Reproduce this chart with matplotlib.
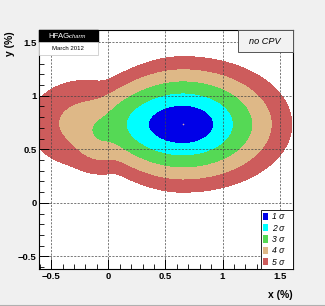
import numpy as np
import matplotlib.pyplot as plt
from matplotlib.patches import Patch, Rectangle
from matplotlib.ticker import MultipleLocator

plt.rcParams['font.family'] = ['Liberation Sans', 'DejaVu Sans']

# main minimum: asymmetric widths
main_x0, main_y0 = 0.653, 0.732
main_sx_left, main_sx_right = 0.20, 0.178
main_sy = 0.118
main_taper = 0.5          # contours narrow in y towards the left

# secondary lobes on the left (x0, y0, sigma x, sigma y, relative weight)
lobe_x0 = [-0.06, -0.20]
lobe_y0 = [0.665, 0.74]
lobe_sx = [0.09, 0.14]
lobe_sy = [0.095, 0.115]
lobe_w = [3.4e-3, 2.6e-4]

# 2D delta chi2 for 1..5 sigma
sigma_levels = [2.30, 6.18, 11.83, 19.33, 28.74]
sigma_labels = ['1 σ', '2 σ', '3 σ', '4 σ', '5 σ']
sigma_colors = ['#0000e8', '#00ffff', '#55d955', '#deb887', '#cd5c5c']

xticks = [-0.5, 0, 0.5, 1, 1.5]
yticks = [-0.5, 0, 0.5, 1, 1.5]

gx = np.linspace(-0.8, 1.8, 520)
gy = np.linspace(-0.7, 1.7, 480)
X, Y = np.meshgrid(gx, gy)
dx = X - main_x0
dy = Y - main_y0
sxm = np.where(dx < 0, main_sx_left, main_sx_right)
narrow = 1 + main_taper * np.clip(-dx, 0, None) ** 2
L = np.exp(-0.5 * ((dx / sxm) ** 2 + (dy * narrow / main_sy) ** 2))
for x0, y0, sx, sy, w in zip(lobe_x0, lobe_y0, lobe_sx, lobe_sy, lobe_w):
    L += w * np.exp(-0.5 * (((X - x0) / sx) ** 2 + ((Y - y0) / sy) ** 2))
chi2 = -2 * np.log(L / L.max())

fig = plt.figure(figsize=(3.25, 3.06), dpi=100, facecolor='#f0f0f0')
ax = fig.add_axes([0.121, 0.121, 0.7815, 0.781])
ax.set_facecolor('white')

ax.contourf(X, Y, chi2, levels=[0] + sigma_levels, colors=sigma_colors)
ax.plot([main_x0], [main_y0], 'o', ms=1.2, color='#d0a0b0', mec='none')

ax.set_xlim(-0.604, 1.62)
ax.set_ylim(-0.617, 1.613)
ax.set_xticks(xticks)
ax.set_yticks(yticks)
ax.set_xticklabels(['\u22120.5', '0', '0.5', '1', '1.5'])
ax.set_yticklabels(['\u22120.5', '0', '0.5', '1', '1.5'])
ax.xaxis.set_minor_locator(MultipleLocator(0.1))
ax.yaxis.set_minor_locator(MultipleLocator(0.1))
ax.tick_params(which='both', direction='in', top=False, right=False,
               labelsize=6.8, pad=2)
ax.tick_params(which='major', length=7, width=0.7)
ax.tick_params(which='minor', length=3.5, width=0.6)
for lab in ax.get_xticklabels() + ax.get_yticklabels():
    lab.set_fontweight('bold')
ax.set_axisbelow(False)
ax.grid(True, which='major', color='#444444', linestyle=(0, (3, 2)), linewidth=0.5)
for s in ax.spines.values():
    s.set_linewidth(0.8)

fig.text(293 / 325, 1 - 295.5 / 306, 'x (%)', ha='right', va='center',
         fontsize=7.5, fontweight='bold')
fig.text(10 / 325, 1 - 31 / 306, 'y (%)', ha='center', va='top', rotation=90,
         fontsize=7.5, fontweight='bold')

handles = [Patch(facecolor=c, edgecolor='none') for c in sigma_colors]
leg = ax.legend(handles, sigma_labels, loc='lower left',
                bbox_to_anchor=(0.872, 0, 0.128, 0.2), mode='expand',
                borderaxespad=0, fancybox=False, framealpha=1, edgecolor='black',
                prop={'style': 'italic', 'size': 6.2}, handlelength=0.6,
                handleheight=0.9, labelspacing=0.28, borderpad=0.25,
                handletextpad=0.45)
leg.get_frame().set_linewidth(0.6)

# HFAG logo box
fig.patches.append(Rectangle((39.3 / 325, 1 - 41.7 / 306), 59 / 325, 11.7 / 306,
                             transform=fig.transFigure, facecolor='black',
                             edgecolor='black', zorder=5))
fig.patches.append(Rectangle((39.3 / 325, 1 - 55 / 306), 59 / 325, 13.3 / 306,
                             transform=fig.transFigure, facecolor='white',
                             edgecolor='#cccccc', linewidth=0.6, zorder=5))
fig.text(48 / 325, 1 - 36 / 306, 'HFAG', color='white', fontsize=5.6,
         va='center', ha='left', zorder=6)
fig.text(67.5 / 325, 1 - 36.5 / 306, '-charm', color='white', fontsize=4.2,
         style='italic', va='center', ha='left', zorder=6)
fig.text(68 / 325, 1 - 48.5 / 306, 'March 2012', color='black', fontsize=4.3,
         va='center', ha='center', zorder=6)

# no CPV box
fig.patches.append(Rectangle((238.3 / 325, 1 - 51.7 / 306), 55 / 325, 21.7 / 306,
                             transform=fig.transFigure, facecolor='#f2f2f2',
                             edgecolor='#555555', linewidth=0.7, zorder=5))
fig.text(264.5 / 325, 1 - 41 / 306, 'no CPV', fontsize=6.6, style='italic',
         ha='center', va='center', zorder=6)

fig.add_artist(plt.Line2D([0, 1], [0.004, 0.004], color='#b0b0b0', lw=0.8,
                          transform=fig.transFigure))

fig.savefig('out.png', dpi=100, facecolor=fig.get_facecolor())
